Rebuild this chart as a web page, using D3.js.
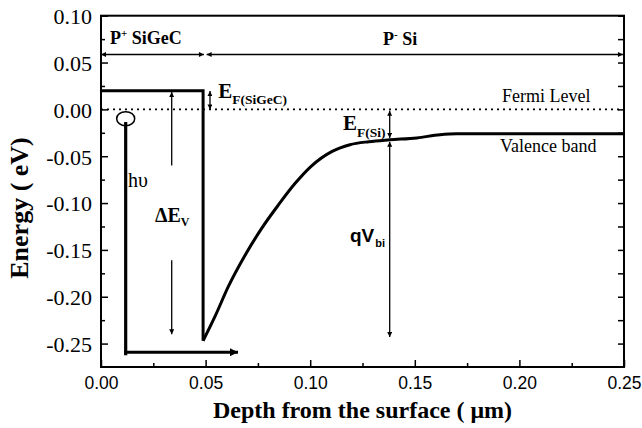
<!DOCTYPE html>
<html><head><meta charset="utf-8">
<script src="https://cdn.jsdelivr.net/npm/d3@7"></script>
<style>body{margin:0;background:#fff}svg{display:block}
.sf{font-family:"Liberation Serif","Times New Roman",Times,"DejaVu Serif",serif}
.ss{font-family:"Liberation Sans",Arial,Helvetica,sans-serif}
</style>
</head><body>
<svg id="c" width="642" height="428"></svg>
<script>
// ---- data ----
const xTicks=[0,0.05,0.10,0.15,0.20,0.25];
const xTickLabels=["0.00","0.05","0.10","0.15","0.20","0.25"];
const xMinor=[0.025,0.075,0.125,0.175,0.225];
const yTicks=[-0.25,-0.20,-0.15,-0.10,-0.05,0,0.05,0.10];
const yTickLabels=["-0.25","-0.20","-0.15","-0.10","-0.05","0.00","0.05","0.10"];
const yMinor=[-0.225,-0.175,-0.125,-0.075,-0.025,0.025,0.075];
const fermiDepth=[0,0.25];
const fermiEnergy=[0,0];
const sigecDepth=[0,0.0488,0.0488];
const sigecEnergy=[0.020,0.020,-0.247];
const siDepth=[0.0488,0.0545,0.0609,0.0688,0.0768,0.0848,0.0927,0.1003,0.1105,0.119,0.128,0.138,0.151,0.162,0.170,0.25];
const siEnergy=[-0.247,-0.221,-0.189,-0.156,-0.127,-0.102,-0.0792,-0.061,-0.0448,-0.0377,-0.0345,-0.0325,-0.0305,-0.027,-0.026,-0.026];

// ---- setup ----
const svg=d3.select("#c");
const x=d3.scaleLinear().domain([0,0.25]).range([101,624]);
const y=d3.scaleLinear().domain([-0.275,0.10]).range([367,15.7]);

const defs=svg.append("defs");
function mk(id,w,h){
  defs.append("marker").attr("id",id).attr("viewBox","0 0 10 10")
    .attr("refX",10).attr("refY",5).attr("markerWidth",w).attr("markerHeight",h)
    .attr("markerUnits","userSpaceOnUse").attr("orient","auto-start-reverse")
    .append("path").attr("d","M0,0L10,5L0,10z").attr("fill","#000");
}
mk("ah",7,5); mk("big",13,8);

// axes
const bx=svg.append("g").attr("transform",`translate(0,${y(-0.275)})`)
  .call(d3.axisBottom(x).tickValues(xTicks).tickSize(-7).tickPadding(10).tickFormat((d,i)=>xTickLabels[i]));
bx.attr("font-family",null);
bx.select(".domain").remove();
bx.selectAll("text").attr("class","ss").attr("font-size",17.5).attr("fill","#000");
bx.selectAll("line").attr("stroke-width",1.5);
const bxm=svg.append("g").attr("transform",`translate(0,${y(-0.275)})`)
  .call(d3.axisBottom(x).tickValues(xMinor).tickSize(-4).tickFormat(""));
bxm.select(".domain").remove(); bxm.selectAll("line").attr("stroke-width",1.5);

const ly=svg.append("g").attr("transform",`translate(${x(0)},0)`)
  .call(d3.axisLeft(y).tickValues(yTicks).tickSize(-7).tickPadding(9).tickFormat((d,i)=>yTickLabels[i]));
ly.attr("font-family",null);
ly.select(".domain").remove();
ly.selectAll("text").attr("class","sf").attr("font-size",22).attr("fill","#000").attr("dy","0.36em");
ly.selectAll("line").attr("stroke-width",1.5);
const lym=svg.append("g").attr("transform",`translate(${x(0)},0)`)
  .call(d3.axisLeft(y).tickValues(yMinor).tickSize(-4).tickFormat(""));
lym.select(".domain").remove(); lym.selectAll("line").attr("stroke-width",1.5);

const ry=svg.append("g").attr("transform",`translate(${x(0.25)},0)`)
  .call(d3.axisRight(y).tickValues(yTicks.concat(yMinor)).tickSize(-6).tickFormat(""));
ry.select(".domain").remove(); ry.selectAll("line").attr("stroke-width",1.5);

svg.append("rect").attr("x",x(0)).attr("y",y(0.10)).attr("width",x(0.25)-x(0)).attr("height",y(-0.275)-y(0.10))
  .attr("fill","none").attr("stroke","#000").attr("stroke-width",2);

// axis titles
svg.append("text").attr("class","sf").attr("x",(x(0)+x(0.25))/2).attr("y",418).attr("text-anchor","middle")
  .attr("font-weight","bold").attr("font-size",24).text("Depth from the surface ( \u03BCm)");
svg.append("text").attr("class","sf").attr("transform",`translate(28,208) rotate(-90)`).attr("text-anchor","middle")
  .attr("font-weight","bold").attr("font-size",26).text("Energy ( eV)");

// lines
const line=d3.line().x(d=>x(d[0])).y(d=>y(d[1]));
svg.append("path").datum(d3.zip(fermiDepth,fermiEnergy)).attr("d",line)
  .attr("fill","none").attr("stroke","#000").attr("stroke-width",1.8).attr("stroke-dasharray","2,4");
svg.append("path").datum(d3.zip(sigecDepth,sigecEnergy)).attr("d",line)
  .attr("fill","none").attr("stroke","#000").attr("stroke-width",3).attr("stroke-linejoin","miter");
svg.append("path").datum(d3.zip(siDepth,siEnergy)).attr("d",line.curve(d3.curveMonotoneX))
  .attr("fill","none").attr("stroke","#000").attr("stroke-width",3);

// arrows
function arrow(x1,y1,x2,y2,opts){
  const p=svg.append("line").attr("x1",x(x1)).attr("y1",y(y1)).attr("x2",x(x2)).attr("y2",y(y2))
    .attr("stroke","#000").attr("stroke-width",opts.w||1.3);
  if(opts.end) p.attr("marker-end",`url(#${opts.m||"ah"})`);
  if(opts.start) p.attr("marker-start",`url(#${opts.m||"ah"})`);
  return p;
}
arrow(0,0.0586,0.0492,0.0586,{start:1,end:1,w:1.6});
arrow(0.0505,0.0586,0.2495,0.0586,{start:1,end:1,w:1.6});
arrow(0.0521,0.0,0.0521,0.0195,{start:1,end:1,w:1.3});
arrow(0.138,-0.0015,0.138,-0.0305,{start:1,end:1,w:1.3});
arrow(0.138,-0.0345,0.138,-0.243,{start:1,end:1,w:1.3});
arrow(0.0338,-0.060,0.0338,0.0185,{end:1,w:1.3});
arrow(0.0338,-0.161,0.0338,-0.240,{end:1,w:1.3});
// h nu
svg.append("ellipse").attr("cx",x(0.0118)).attr("cy",y(-0.0099)).attr("rx",9).attr("ry",7)
  .attr("fill","none").attr("stroke","#000").attr("stroke-width",1.5);
arrow(0.0118,-0.0135,0.0118,-0.2625,{w:3.2});
arrow(0.0111,-0.2592,0.0655,-0.2592,{end:1,w:3,m:"big"});

// labels
function lab(xv,yv,cls,size,weight,parts){
  const t=svg.append("text").attr("class",cls).attr("x",x(xv)).attr("y",y(yv))
    .attr("font-size",size).attr("font-weight",weight);
  parts.forEach(p=>{
    const s=t.append("tspan").text(p.t);
    if(p.fs) s.attr("font-size",p.fs);
    if(p.dy) s.attr("dy",p.dy);
    if(p.dx) s.attr("dx",p.dx);
  });
  return t;
}
lab(0.0043,0.0693,"sf",18,"bold",[{t:"P"},{t:"+",fs:11,dy:-7},{t:" SiGeC",dy:7}]);
lab(0.1348,0.0683,"sf",18,"bold",[{t:"P"},{t:"-",fs:11,dy:-7},{t:" Si",dy:7}]);
lab(0.1917,0.0077,"sf",18,"normal",[{t:"Fermi Level"}]);
lab(0.1907,-0.0455,"sf",18,"normal",[{t:"Valence band"}]);
lab(0.0560,0.0117,"sf",21,"bold",[{t:"E"},{t:"F(SiGeC)",fs:13.5,dy:6}]);
lab(0.1157,-0.0224,"sf",21,"bold",[{t:"E"},{t:"F(Si)",fs:13.5,dy:7}]);
lab(0.0129,-0.0830,"sf",20,"normal",[{t:"h\u03C5"}]);
lab(0.0258,-0.1200,"sf",20,"bold",[{t:"\u0394E"},{t:"V",fs:12,dy:4}]);
lab(0.1190,-0.1420,"ss",19,"bold",[{t:"qV"},{t:"bi",fs:11,dy:5,dx:1}]);
</script>
</body></html>
